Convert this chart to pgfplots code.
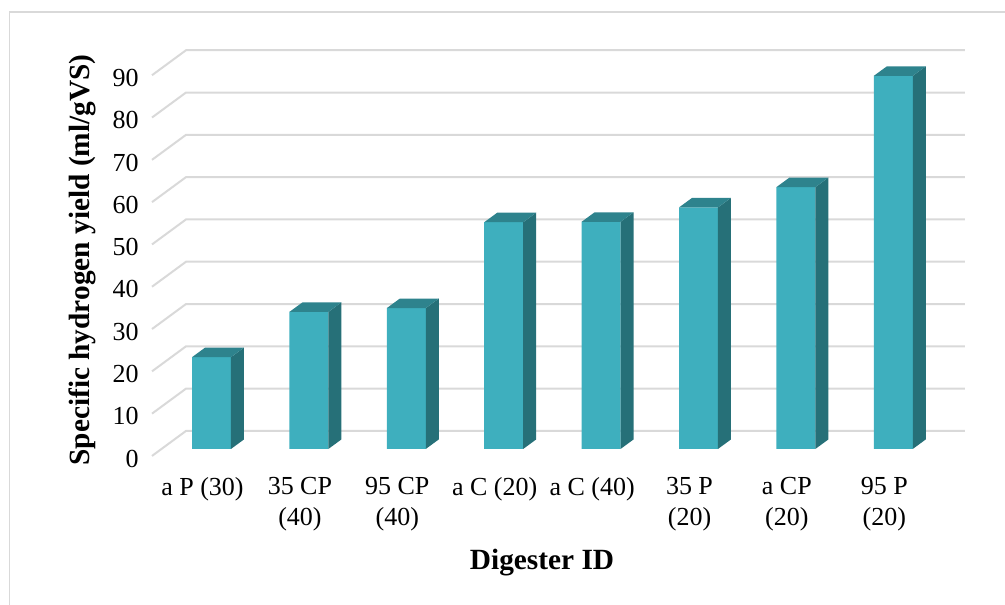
\documentclass[border=0pt]{standalone}
\usepackage{pgfplots}
\pgfplotsset{compat=1.18}
\usepackage{pgfplotstable}
\usepackage{fontspec}
\setmainfont{Liberation Serif}

\definecolor{barfront}{RGB}{62,175,190}
\definecolor{barside}{RGB}{38,112,120}
\definecolor{bartop}{RGB}{46,131,141}
\definecolor{gridgray}{RGB}{217,217,217}

% specific hydrogen yield per digester (ml/gVS)
\pgfplotstableread{
idx yield
0 21.7
1 32.4
2 33.3
3 53.6
4 53.7
5 57.1
6 61.9
7 88.2
}\yieldtable

\begin{document}
\begin{tikzpicture}
% chart frame
\draw[gridgray, line width=1.1pt] (7.1pt,-460pt) -- (7.1pt,-9pt) -- (760pt,-9pt);
\begin{axis}[
  at={(107.5pt,-349.4pt)}, anchor=south west,
  scale only axis, width=620.9pt, height=317.25pt,
  xmin=-0.7, xmax=7.8, ymin=-4, ymax=96,
  clip=false,
  axis line style={draw=none},
  major tick length=0pt,
  xtick={0,1,2,3,4,5,6,7},
  xticklabels={a P (30),{35 CP\\(40)},{95 CP\\(40)},a C (20),a C (40),{35 P\\(20)},{a CP\\(20)},{95 P\\(20)}},
  xticklabel style={align=center, xshift=-6.75pt, yshift=-5pt, font=\fontsize{19.5}{23.4}\selectfont},
  ytick={-1.65,8.35,18.35,28.35,38.35,48.35,58.35,68.35,78.35,88.35},
  yticklabels={0,10,20,30,40,50,60,70,80,90},
  yticklabel style={yshift=-2pt, font=\fontsize{19.5}{23.4}\selectfont},
  /pgf/number format/assume math mode=true,
  xlabel={Digester ID},
  xlabel style={at={(axis description cs:0.4816,-0.229)}, anchor=center, font=\fontsize{22}{26}\selectfont\bfseries},
  ylabel={Specific hydrogen yield (ml/gVS)},
  ylabel style={at={(axis description cs:-0.0735,0.4868)}, anchor=center, font=\fontsize{22}{26}\selectfont\bfseries},
]
% back wall and left wall gridlines
\pgfplotsinvokeforeach{0,10,20,30,40,50,60,70,80,90}{
  \pgfmathsetmacro\gya{#1-1.65}
  \pgfmathsetmacro\gyb{#1+4.26}
  \edef\tmp{\noexpand\addplot[gridgray, line width=1.5pt, forget plot] coordinates {(-0.611,\gya) (-0.262,\gyb) (7.736,\gyb)};}
  \tmp
}
% bar front faces
\addplot[ybar, bar width=0.4, fill=barfront, draw=none] table[x=idx, y=yield] {\yieldtable};
% bar side and top faces
\pgfplotsinvokeforeach{0,...,7}{
  \pgfplotstablegetelem{#1}{yield}\of\yieldtable
  \pgfmathsetmacro\bxl{#1-0.2}
  \pgfmathsetmacro\bxr{#1+0.2}
  \pgfmathsetmacro\bxlb{#1-0.2+0.1335}
  \pgfmathsetmacro\bxrb{#1+0.2+0.1335}
  \pgfmathsetmacro\bval{\pgfplotsretval}
  \pgfmathsetmacro\bvalb{\pgfplotsretval+2.25}
  \edef\tmp{%
    \noexpand\addplot[fill=barside, draw=none, forget plot] coordinates {(\bxr,0) (\bxrb,2.25) (\bxrb,\bvalb) (\bxr,\bval)} -- cycle;
    \noexpand\addplot[fill=bartop, draw=none, forget plot] coordinates {(\bxl,\bval) (\bxr,\bval) (\bxrb,\bvalb) (\bxlb,\bvalb)} -- cycle;
  }
  \tmp
}
\end{axis}
\pgfresetboundingbox
\path[use as bounding box] (0pt,0pt) rectangle (753.75pt,-453pt);
\end{tikzpicture}
\end{document}
